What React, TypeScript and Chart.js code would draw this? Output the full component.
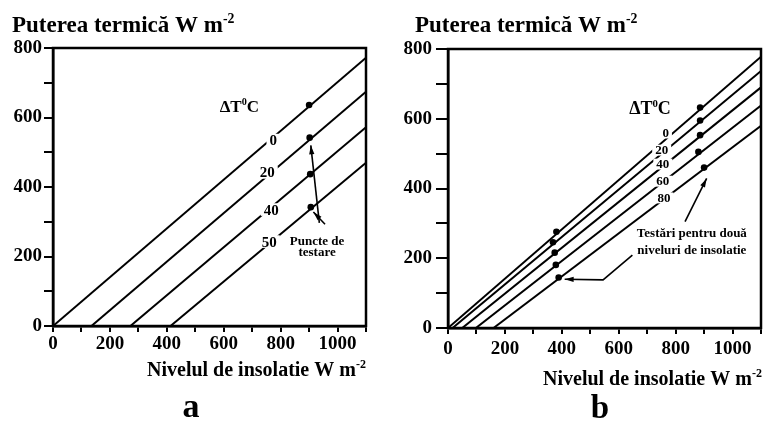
import React, { useEffect, useRef } from 'react';
import { Chart, registerables } from 'chart.js';

Chart.register(...registerables);

// ---------- data ----------
const xTickLabels = ['0', '200', '400', '600', '800', '1000'];
const yTickLabels = ['0', '200', '400', '600', '800'];
const X_MAX = 1100;
const Y_MAX = 800;
const STEP = 100;

// Panel a: parallel lines, ΔT labels, test points
const aDeltaT = ['0', '20', '40', '50'];
const aLineStartX = [0, 135, 272, 413];
const aLineEndY = [772, 674, 572, 470];
const aTestX = [900, 902, 904, 906];
const aTestY = [636, 542, 437, 342];

// Panel b: fanning lines, two insolation test levels
const bDeltaT = ['0', '20', '40', '60', '80'];
const bLineStartX = [0, 16, 50, 98, 160];
const bLineEndY = [778, 737, 690, 638, 580];
const bTestLowX = [381, 369, 375, 379, 389];
const bTestLowY = [276, 246, 216, 181, 145];
const bTestHighX = [886, 886, 886, 880, 900];
const bTestHighY = [632, 595, 553, 505, 460];

const titleText = 'Puterea termică W m';
const xTitleText = 'Nivelul de insolatie W m';
const unitSup = '-2';
const deltaText = 'ΔT';
const deltaSup = '0';
const deltaUnit = 'C';
const aNote = ['Puncte de', 'testare'];
const bNote = ['Testări pentru două', 'niveluri de insolatie'];

const FONT = '"Liberation Serif", "Times New Roman", serif';
const font = (s: number) => `bold ${s}px ${FONT}`;

type Part = [string, boolean];

function drawRich(ctx: CanvasRenderingContext2D, parts: Part[], x: number, y: number, size: number, align: 'left' | 'center' | 'right') {
  const widths = parts.map(([t, sup]) => {
    ctx.font = font(sup ? size * 0.6 : size);
    return ctx.measureText(t).width;
  });
  const total = widths.reduce((a, b) => a + b, 0);
  let cx = align === 'center' ? x - total / 2 : align === 'right' ? x - total : x;
  ctx.textAlign = 'left';
  ctx.textBaseline = 'alphabetic';
  ctx.fillStyle = '#000';
  parts.forEach(([t, sup], i) => {
    ctx.font = font(sup ? size * 0.6 : size);
    ctx.fillText(t, cx, sup ? y - size * 0.4 : y);
    cx += widths[i];
  });
  return total;
}

function drawArrow(ctx: CanvasRenderingContext2D, pts: number[][], head: number, halfW: number, lw: number) {
  ctx.save();
  ctx.strokeStyle = '#000';
  ctx.fillStyle = '#000';
  ctx.lineWidth = lw;
  ctx.beginPath();
  ctx.moveTo(pts[0][0], pts[0][1]);
  for (let i = 1; i < pts.length; i++) ctx.lineTo(pts[i][0], pts[i][1]);
  ctx.stroke();
  const [x1, y1] = pts[pts.length - 2];
  const [x2, y2] = pts[pts.length - 1];
  const ang = Math.atan2(y2 - y1, x2 - x1);
  const bx = x2 - head * Math.cos(ang);
  const by = y2 - head * Math.sin(ang);
  ctx.beginPath();
  ctx.moveTo(x2, y2);
  ctx.lineTo(bx + halfW * Math.sin(ang), by - halfW * Math.cos(ang));
  ctx.lineTo(bx - halfW * Math.sin(ang), by + halfW * Math.cos(ang));
  ctx.closePath();
  ctx.fill();
  ctx.restore();
}

interface Spec {
  left: number; w: number; h: number;
  padTop: number; padRight: number; yAxisWidth: number; xAxisHeight: number;
  yTickLength: number; yTickPadding: number; xTickLength: number; xTickPadding: number;
  deltaT: string[]; lineStartX: number[]; lineEndY: number[];
  tests: { x: number[]; y: number[] }[];
  title: [number, number]; xTitle: [number, number]; letter: [string, number, number, number];
  delta: [number, number, number];
  labelPos: number[][]; labelSize: number;
  note: string[]; notePos: number[][]; noteSize: number;
  arrows: number[][][];
}

function buildConfig(spec: Spec): any {
  const datasets: any[] = [];
  spec.lineStartX.forEach((sx, i) => {
    datasets.push({
      label: spec.deltaT[i],
      data: [{ x: sx, y: 0 }, { x: X_MAX, y: spec.lineEndY[i] }],
      showLine: true, borderColor: '#000', borderWidth: 2, pointRadius: 0, fill: false,
    });
  });
  spec.tests.forEach((t) => {
    datasets.push({
      label: 'test',
      data: t.x.map((x, i) => ({ x, y: t.y[i] })),
      showLine: false, pointRadius: 3.3, pointBackgroundColor: '#000', pointBorderColor: '#000', pointBorderWidth: 0,
    });
  });

  const overlay = {
    id: 'overlay',
    afterDatasetsDraw(chart: any) {
      const ctx: CanvasRenderingContext2D = chart.ctx;
      const xs = chart.scales.x, ys = chart.scales.y;
      const px = (v: number) => xs.getPixelForValue(v);
      const py = (v: number) => ys.getPixelForValue(v);
      ctx.save();
      // series labels with gaps in lines
      spec.labelPos.forEach(([vx, vy], i) => {
        const cx = px(vx), cy = py(vy);
        ctx.font = font(spec.labelSize);
        const w = ctx.measureText(spec.deltaT[i]).width;
        ctx.fillStyle = '#fff';
        ctx.fillRect(cx - w / 2 - 3, cy - spec.labelSize * 0.42, w + 6, spec.labelSize * 0.84);
        ctx.fillStyle = '#000';
        ctx.textAlign = 'center';
        ctx.textBaseline = 'alphabetic';
        ctx.fillText(spec.deltaT[i], cx, cy + spec.labelSize * 0.33);
      });
      const [dx, dy, ds] = spec.delta;
      drawRich(ctx, [[deltaText, false], [deltaSup, true], [deltaUnit, false]], px(dx), py(dy) + ds * 0.33, ds, 'center');
      spec.note.forEach((t, i) => {
        ctx.font = font(spec.noteSize);
        ctx.fillStyle = '#000';
        ctx.textAlign = 'center';
        ctx.textBaseline = 'alphabetic';
        ctx.fillText(t, px(spec.notePos[i][0]), py(spec.notePos[i][1]) + spec.noteSize * 0.33);
      });
      spec.arrows.forEach((a) => {
        drawArrow(ctx, a.map(([vx, vy]) => [px(vx), py(vy)]), 9, 2.6, 1.6);
      });
      ctx.restore();
    },
    afterDraw(chart: any) {
      const ctx: CanvasRenderingContext2D = chart.ctx;
      const a = chart.chartArea;
      ctx.save();
      ctx.strokeStyle = '#000';
      ctx.lineWidth = 2.5;
      ctx.strokeRect(a.left, a.top, a.right - a.left, a.bottom - a.top);
      drawRich(ctx, [[titleText, false], [unitSup, true]], spec.title[0], spec.title[1], 23, 'left');
      drawRich(ctx, [[xTitleText, false], [unitSup, true]], spec.xTitle[0], spec.xTitle[1], 20, 'left');
      const [lt, lx, ly, ls] = spec.letter;
      ctx.font = font(ls);
      ctx.fillStyle = '#000';
      ctx.textAlign = 'center';
      ctx.textBaseline = 'alphabetic';
      ctx.fillText(lt, lx, ly);
      ctx.restore();
    },
  };

  const tickFont = { family: FONT, size: 19, weight: 'bold' as const };

  return {
    type: 'scatter',
    data: { datasets },
    options: {
      responsive: false,
      animation: false,
      devicePixelRatio: 1,
      events: [],
      layout: { padding: { left: 0, top: spec.padTop, right: spec.padRight, bottom: 0 } },
      plugins: { legend: { display: false }, tooltip: { enabled: false }, title: { display: false } },
      scales: {
        x: {
          type: 'linear', position: 'bottom', min: 0, max: X_MAX,
          ticks: {
            stepSize: STEP, autoSkip: false, maxRotation: 0, color: '#000', font: tickFont,
            padding: spec.xTickPadding,
            callback: (v: any) => (xTickLabels.includes(String(v)) ? String(v) : ''),
          },
          grid: { drawOnChartArea: false, drawTicks: true, tickLength: spec.xTickLength, color: '#000', lineWidth: 2 },
          border: { display: true, color: '#000', width: 2.5 },
          afterFit: (s: any) => { s.height = spec.xAxisHeight; },
        },
        y: {
          type: 'linear', position: 'left', min: 0, max: Y_MAX,
          ticks: {
            stepSize: STEP, autoSkip: false, color: '#000', font: tickFont,
            padding: spec.yTickPadding,
            callback: (v: any) => (yTickLabels.includes(String(v)) ? String(v) : ''),
          },
          grid: { drawOnChartArea: false, drawTicks: true, tickLength: spec.yTickLength, color: '#000', lineWidth: 2 },
          border: { display: true, color: '#000', width: 2.5 },
          afterFit: (s: any) => { s.width = spec.yAxisWidth; },
        },
      },
    },
    plugins: [overlay],
  };
}

const specA: Spec = {
  left: 0, w: 382, h: 421,
  padTop: 48, padRight: 16, yAxisWidth: 53, xAxisHeight: 95,
  yTickLength: 9, yTickPadding: 2, xTickLength: 6, xTickPadding: 1,
  deltaT: aDeltaT, lineStartX: aLineStartX, lineEndY: aLineEndY,
  tests: [{ x: aTestX, y: aTestY }],
  title: [12, 32], xTitle: [147, 376], letter: ['a', 191, 417, 34],
  delta: [655, 633, 17],
  labelPos: [[774, 535], [753, 442], [767, 335], [760, 243]], labelSize: 15,
  note: aNote, notePos: [[928, 246], [928, 214]], noteSize: 13,
  arrows: [[[936, 297], [906, 520]], [[956, 293], [915, 328]]],
};

const specB: Spec = {
  left: 382, w: 383, h: 421,
  padTop: 49, padRight: 4, yAxisWidth: 66, xAxisHeight: 93,
  yTickLength: 12, yTickPadding: 4, xTickLength: 6, xTickPadding: 4,
  deltaT: bDeltaT, lineStartX: bLineStartX, lineEndY: bLineEndY,
  tests: [{ x: bTestLowX, y: bTestLowY }, { x: bTestHighX, y: bTestHighY }],
  title: [33, 32], xTitle: [161, 385], letter: ['b', 218, 418, 33],
  delta: [710, 631, 18],
  labelPos: [[765, 559], [751, 510], [755, 470], [755, 421], [759, 373]], labelSize: 13,
  note: bNote, notePos: [[857, 272], [857, 224]], noteSize: 13,
  arrows: [[[833, 305], [909, 429]], [[648, 209], [545, 138], [410, 140]]],
};

function Panel({ spec }: { spec: Spec }) {
  const ref = useRef<HTMLCanvasElement>(null);
  useEffect(() => {
    const chart = new Chart(ref.current as HTMLCanvasElement, buildConfig(spec));
    return () => chart.destroy();
  }, [spec]);
  return (
    <canvas
      ref={ref}
      width={spec.w}
      height={spec.h}
      style={{ position: 'absolute', left: spec.left, top: 0, width: spec.w, height: spec.h, display: 'block' }}
    />
  );
}

export default function App() {
  return (
    <div style={{ position: 'absolute', left: 0, top: 0, width: 765, height: 421, background: '#fff', overflow: 'hidden' }}>
      <Panel spec={specA} />
      <Panel spec={specB} />
    </div>
  );
}
